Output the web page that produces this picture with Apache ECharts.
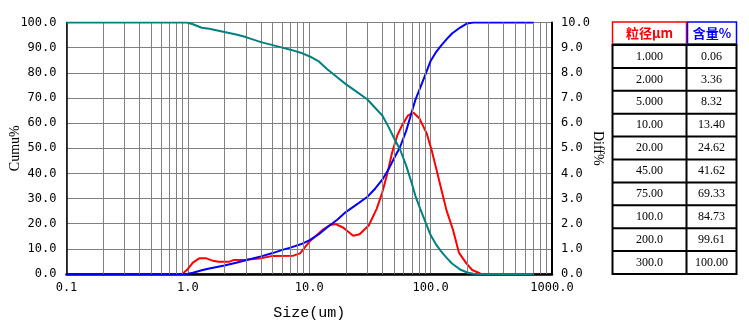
<!DOCTYPE html>
<html>
<head>
<meta charset="utf-8">
<script src="https://cdn.jsdelivr.net/npm/echarts@6/dist/echarts.min.js"></script>
<style>
html,body{margin:0;padding:0;background:#fff;}
#chart{width:749px;height:332px;}
</style>
</head>
<body>
<div id="chart"></div>
<script>
// ---- data ----
const cumSizes = [0.1, 0.95, 1.0, 1.1, 1.3, 1.5, 2.0, 2.5, 3.0, 4.0, 5.0, 6.0, 7.0, 8.5, 10, 12, 14, 17, 20, 24, 30, 35, 40, 45, 50, 56, 63, 70, 75, 82, 90, 100, 110, 122, 135, 150, 175, 200, 225, 260, 300, 500, 710];
const undersize = [0, 0, 0.06, 0.5, 1.5, 2.2, 3.36, 4.5, 5.5, 7.0, 8.32, 9.6, 10.5, 11.8, 13.40, 15.8, 18.5, 21.6, 24.62, 27.3, 30.6, 34.0, 37.5, 41.62, 46.0, 50.5, 57.0, 64.5, 69.33, 74.0, 79.0, 84.73, 88.0, 90.8, 93.3, 95.6, 98.0, 99.61, 100, 100, 100, 100, 100];
const oversize = [100, 100, 99.9, 99.3, 97.9, 97.5, 96.2, 95.2, 94.2, 92.2, 91.0, 90.0, 89.2, 88.0, 86.6, 84.5, 81.5, 78.2, 75.5, 72.8, 69.5, 66.0, 63.0, 58.5, 54.0, 49.5, 43.0, 36.0, 31.0, 26.0, 21.0, 15.5, 12.0, 9.0, 6.5, 4.2, 1.8, 0.6, 0.1, 0, 0, 0, 0];
const diffSizes = [0.9, 1.0, 1.1, 1.25, 1.4, 1.6, 1.8, 2.2, 2.4, 3.0, 4.0, 5.0, 7.4, 8.4, 10, 13, 15, 16.5, 19, 23, 26, 31, 36, 40, 44, 48, 53, 58, 65, 72, 81, 93, 102, 112, 123, 135, 153, 171, 197, 220, 257];
const diffValues = [0, 0.2, 0.45, 0.63, 0.63, 0.53, 0.49, 0.49, 0.56, 0.57, 0.63, 0.72, 0.73, 0.82, 1.28, 1.77, 1.96, 1.98, 1.85, 1.52, 1.58, 1.94, 2.6, 3.25, 4.0, 4.8, 5.5, 5.9, 6.3, 6.42, 6.18, 5.58, 4.92, 4.13, 3.33, 2.54, 1.75, 0.85, 0.42, 0.16, 0.02];
const tableHeader = ['粒径μm', '含量%'];
const tableSizes = ['1.000', '2.000', '5.000', '10.00', '20.00', '45.00', '75.00', '100.0', '200.0', '300.0'];
const tableContents = ['0.06', '3.36', '8.32', '13.40', '24.62', '41.62', '69.33', '84.73', '99.61', '100.00'];
const minorGrid = [0.2,0.3,0.4,0.5,0.6,0.7,0.8,0.9,2,3,4,5,6,7,8,9,20,30,40,50,60,70,80,90,200,300,400,500,600,700,800,900];

// ---- build ----
const zip = (xs, ys) => xs.map((x, i) => [x, ys[i]]);
const monoFont = '"DejaVu Sans Mono", monospace';
const gridColor = '#808080';

// table graphics
const tX0 = 612.5, tXm = 686.5, tX1 = 736.5;
const hTop = 22, hBot = 44, rTop = 45, rBot = 274;
const rowH = (rBot - rTop) / tableSizes.length;
const graphics = [];
graphics.push({type:'rect', shape:{x:tX0, y:hTop, width:tXm - tX0, height:hBot - hTop}, style:{fill:'#fff', stroke:'#ff0000', lineWidth:1.5}});
graphics.push({type:'rect', shape:{x:tXm + 1, y:hTop, width:tX1 - tXm - 1, height:hBot - hTop}, style:{fill:'#fff', stroke:'#0000ff', lineWidth:1.5}});
graphics.push({type:'text', x:(tX0 + tXm) / 2, y:(hTop + hBot) / 2, style:{text:tableHeader[0], fill:'#ff0000', font:'bold 13px "Noto Sans CJK SC", sans-serif', align:'center', verticalAlign:'middle'}});
graphics.push({type:'text', x:(tXm + tX1) / 2 + 0.5, y:(hTop + hBot) / 2, style:{text:tableHeader[1], fill:'#0000ff', font:'bold 13px "Noto Sans CJK SC", sans-serif', align:'center', verticalAlign:'middle'}});
graphics.push({type:'rect', shape:{x:tX0, y:rTop, width:tX1 - tX0, height:rBot - rTop}, style:{fill:'#fff', stroke:'#000', lineWidth:2}});
graphics.push({type:'line', shape:{x1:tXm, y1:rTop, x2:tXm, y2:rBot}, style:{stroke:'#000', lineWidth:2}});
for (let i = 0; i < tableSizes.length; i++) {
  const yTop = rTop + i * rowH;
  if (i > 0) graphics.push({type:'line', shape:{x1:tX0, y1:yTop, x2:tX1, y2:yTop}, style:{stroke:'#000', lineWidth:2}});
  graphics.push({type:'text', x:(tX0 + tXm) / 2, y:yTop + rowH / 2, style:{text:tableSizes[i], fill:'#000', font:'12px "Liberation Serif", serif', align:'center', verticalAlign:'middle'}});
  graphics.push({type:'text', x:(tXm + tX1) / 2, y:yTop + rowH / 2, style:{text:tableContents[i], fill:'#000', font:'12px "Liberation Serif", serif', align:'center', verticalAlign:'middle'}});
}

const chart = echarts.init(document.getElementById('chart'), null, {renderer:'canvas'});
chart.setOption({
  animation: false,
  backgroundColor: '#fff',
  grid: {left: 66.5, right: 197, top: 22.5, bottom: 58, containLabel: false, outerBoundsMode: 'none',
    show: true, borderColor: '#000', borderWidth: 1, backgroundColor: 'transparent'},
  xAxis: {
    type: 'log', logBase: 10, min: 0.1, max: 1000,
    name: 'Size(um)', nameLocation: 'middle', nameGap: 32, nameMoveOverlap: false,
    nameTextStyle: {fontFamily: '"Liberation Mono", monospace', fontSize: 15, color: '#000'},
    axisLine: {show: true, onZero: false, lineStyle: {color: '#000', width: 2.5}},
    axisTick: {show: false},
    axisLabel: {color: '#000', fontFamily: monoFont, fontSize: 12, margin: 8, showMinLabel: true, showMaxLabel: true,
      formatter: v => Number(v).toFixed(1)},
    splitLine: {show: true, lineStyle: {color: gridColor, width: 1}},
    minorTick: {show: false}, minorSplitLine: {show: false}
  },
  yAxis: [{
    type: 'value', min: 0, max: 100, interval: 10, position: 'left',
    name: 'Cumu%', nameLocation: 'middle', nameGap: 44, nameRotate: 90, nameMoveOverlap: false,
    nameTextStyle: {fontFamily: '"Liberation Serif", serif', fontSize: 14, color: '#000'},
    axisLine: {show: true, lineStyle: {color: '#000', width: 1.5}},
    axisTick: {show: false},
    axisLabel: {color: '#000', fontFamily: monoFont, fontSize: 12, margin: 10, formatter: v => v.toFixed(1)},
    splitLine: {show: true, lineStyle: {color: gridColor, width: 1}}
  }, {
    type: 'value', min: 0, max: 10, interval: 1, position: 'right',
    name: 'Diff%', nameLocation: 'middle', nameGap: 39, nameRotate: -90, nameMoveOverlap: false,
    nameTextStyle: {fontFamily: '"Liberation Serif", serif', fontSize: 14, color: '#000'},
    axisLine: {show: true, lineStyle: {color: '#000', width: 2}},
    axisTick: {show: false},
    axisLabel: {color: '#000', fontFamily: monoFont, fontSize: 12, margin: 9, formatter: v => v.toFixed(1)},
    splitLine: {show: false}
  }],
  series: [{
    type: 'line', name: 'minor', data: [], z: 1, silent: true,
    markLine: {silent: true, symbol: 'none', label: {show: false}, animation: false,
      lineStyle: {color: gridColor, width: 1, type: 'solid'},
      data: minorGrid.map(v => ({xAxis: v}))}
  }, {
    type: 'line', name: 'Diff', yAxisIndex: 1, data: zip(diffSizes, diffValues), showSymbol: false, symbol: 'none',
    lineStyle: {color: '#ff0000', width: 2}, z: 3
  }, {
    type: 'line', name: 'Undersize', data: zip(cumSizes, undersize), showSymbol: false, symbol: 'none',
    lineStyle: {color: '#0000ff', width: 2}, z: 4
  }, {
    type: 'line', name: 'Oversize', data: zip(cumSizes, oversize), showSymbol: false, symbol: 'none',
    lineStyle: {color: '#008080', width: 2}, z: 5
  }],
  graphic: graphics
});
</script>
</body>
</html>
